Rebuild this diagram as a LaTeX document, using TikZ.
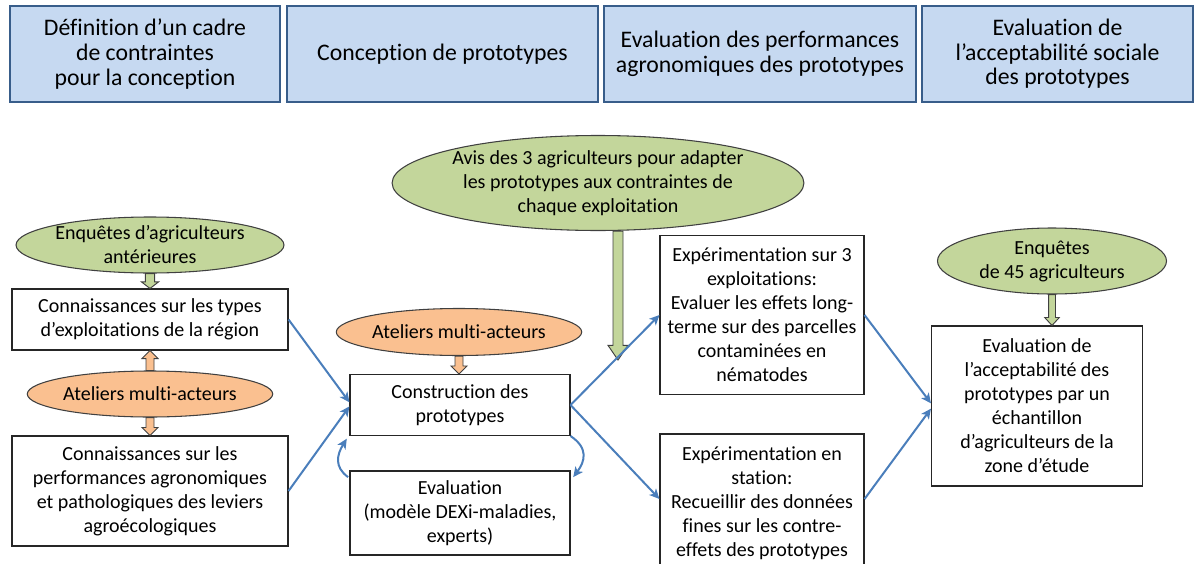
\documentclass[tikz,border=0pt]{standalone}
\usepackage{fontspec}
\setmainfont[Ligatures={NoCommon,NoContextual}, RawFeature={-liga;-clig;-dlig}]{Carlito}
\usetikzlibrary{arrows.meta,calc,shapes.geometric}
\definecolor{headfill}{RGB}{198,217,241}
\definecolor{headline}{RGB}{56,93,138}
\definecolor{greenfill}{RGB}{195,214,155}
\definecolor{orangefill}{RGB}{250,192,144}
\definecolor{flowcolor}{RGB}{74,126,187}
\newdimen\pxu
\pxu=0.75pt

% fleche bloc verticale : depart, arrivee, style, demi-largeur, demi-tete, longueur tete
\newcommand{\blockarrow}[6]{%
  \draw[#3] let \p1=(#1), \p2=(#2), \n1={(\y2-\y1)/abs(\y2-\y1)*#6} in
    (\x1-#4,\y1) -- (\x1-#4,\y2-\n1) -- (\x1-#5,\y2-\n1) -- (\x1,\y2)
    -- (\x1+#5,\y2-\n1) -- (\x1+#4,\y2-\n1) -- (\x1+#4,\y1) -- cycle;
}

\tikzset{
  headbox/.style={draw=headline, fill=headfill, line width=1.6pt, align=center,
    inner sep=0pt, font=\fontsize{17.8}{18.5}\selectfont},
  textbox/.style={draw=black!85, line width=0.8pt, fill=white, align=center,
    inner sep=0pt, font=\fontsize{15}{18}\selectfont},
  greenell/.style={ellipse, draw=black!75, line width=0.8pt, fill=greenfill,
    align=center, inner sep=0pt, font=\fontsize{15}{18}\selectfont},
  orangeell/.style={ellipse, draw=black!75, line width=0.8pt, fill=orangefill,
    align=center, inner sep=0pt, font=\fontsize{15}{18}\selectfont},
  greenarrow/.style={draw=black!75, line width=0.7pt, fill=greenfill},
  orangearrow/.style={draw=black!75, line width=0.7pt, fill=orangefill},
  flow/.style={draw=flowcolor, line width=1.5pt, -{Stealth[length=7.5pt,width=7pt,inset=2pt]}}
}

\begin{document}
\begin{tikzpicture}[x=0.75pt, y=-0.75pt, >=Stealth]

    \useasboundingbox (0,0) rectangle (1196,564);

    % ═══════════════════════════════════════════════════════════════════════════
    % ETAPES
    % ═══════════════════════════════════════════════════════════════════════════

    \node[headbox, minimum width=270\pxu, minimum height=96\pxu] (hdcadre) at (145,54)
        {Définition d’un cadre\\de contraintes\\pour la conception};
    \node[headbox, minimum width=311\pxu, minimum height=96\pxu] (hdconception) at (442.5,54)
        {Conception de prototypes};
    \node[headbox, minimum width=312\pxu, minimum height=96\pxu] (hdperf) at (760,54)
        {Evaluation des performances\\agronomiques des prototypes};
    \node[headbox, minimum width=271\pxu, minimum height=96\pxu] (hdaccept) at (1057.5,54)
        {Evaluation de\\l’acceptabilité sociale\\des prototypes};

    % ═══════════════════════════════════════════════════════════════════════════
    % CADRE DE CONTRAINTES
    % ═══════════════════════════════════════════════════════════════════════════

    \node[greenell, minimum width=224\pxu, minimum height=56\pxu] (enqant) at (150,245)
        {Enquêtes d’agriculteurs\\antérieures};
    \node[textbox, minimum width=276\pxu, minimum height=61\pxu] (conntypes) at (150,319.5)
        {Connaissances sur les types\\d’exploitations de la région};
    \node[orangeell, minimum width=224\pxu, minimum height=46\pxu] (atelgauche) at (150,394)
        {Ateliers multi-acteurs};
    \node[textbox, minimum width=276\pxu, minimum height=110\pxu] (connperf) at (150,491)
        {Connaissances sur les\\performances agronomiques\\et pathologiques des leviers\\agroécologiques};

    \blockarrow{enqant.south}{conntypes.north}{greenarrow}{3.5pt}{6.5pt}{5pt}
    \blockarrow{atelgauche.north}{conntypes.south}{orangearrow}{3pt}{6pt}{6pt}
    \blockarrow{atelgauche.south}{connperf.north}{orangearrow}{3pt}{6pt}{6pt}

    % ═══════════════════════════════════════════════════════════════════════════
    % CONCEPTION
    % ═══════════════════════════════════════════════════════════════════════════

    \node[orangeell, minimum width=222\pxu, minimum height=47\pxu] (atelcentre) at (459,332)
        {Ateliers multi-acteurs};
    \node[textbox, minimum width=220\pxu, minimum height=61\pxu] (construction) at (460,405)
        {Construction des\\prototypes};
    \node[textbox, minimum width=220\pxu, minimum height=84\pxu] (evaldexi) at (460,513)
        {Evaluation\\(modèle DEXi-maladies,\\experts)};

    \blockarrow{atelcentre.south}{construction.north}{orangearrow}{3pt}{6pt}{6pt}

    \draw[flow] (conntypes.east) -- ([yshift=2pt]construction.west);
    \draw[flow] (connperf.east) -- ([yshift=-1pt]construction.west);

    % boucle construction / evaluation
    \draw[flow] (construction.south east) .. controls +(18,12) and +(12,-16) .. ([xshift=2pt,yshift=-5pt]evaldexi.north east);
    \draw[flow] ([xshift=-1pt,yshift=-5pt]evaldexi.north west) .. controls +(-14,-10) and +(-10,16) .. ([xshift=-2pt,yshift=-2pt]construction.south west);

    % ═══════════════════════════════════════════════════════════════════════════
    % PERFORMANCES AGRONOMIQUES
    % ═══════════════════════════════════════════════════════════════════════════

    \node[greenell, minimum width=335\pxu, minimum height=95\pxu] (avis) at (598,183)
        {Avis des 3 agriculteurs pour adapter\\les prototypes aux contraintes de\\chaque exploitation};
    \coordinate (avistip) at (618,360);
    \blockarrow{avis.south -| avistip}{avistip}{greenarrow}{3.75pt}{7.5pt}{11pt}

    \node[textbox, minimum width=204\pxu, minimum height=159\pxu] (expexploit) at (762,315)
        {Expérimentation sur 3\\exploitations:\\Evaluer les effets long-\\terme sur des parcelles\\contaminées en\\nématodes};
    \node[textbox, minimum width=204\pxu, minimum height=138\pxu] (expstation) at (762,503)
        {Expérimentation en\\station:\\Recueillir des données\\fines sur les contre-\\effets des prototypes};

    \draw[flow] (construction.east) -- (expexploit.west);
    \draw[flow] (construction.east) -- ([yshift=3pt]expstation.west);

    % ═══════════════════════════════════════════════════════════════════════════
    % ACCEPTABILITE SOCIALE
    % ═══════════════════════════════════════════════════════════════════════════

    \node[greenell, minimum width=229\pxu, minimum height=66\pxu] (enq45) at (1052,261)
        {Enquêtes\\de 45 agriculteurs};
    \node[textbox, minimum width=211\pxu, minimum height=160\pxu] (acceptab) at (1037,406)
        {Evaluation de\\l’acceptabilité des\\prototypes par un\\échantillon\\d’agriculteurs de la\\zone d’étude};

    \blockarrow{enq45.south}{acceptab.north -| enq45.south}{greenarrow}{2.6pt}{5.5pt}{6pt}

    \draw[flow] (expexploit.east) -- ([yshift=2pt]acceptab.west);
    \draw[flow] ([yshift=3pt]expstation.east) -- ([yshift=-2pt]acceptab.west);

\end{tikzpicture}
\end{document}
